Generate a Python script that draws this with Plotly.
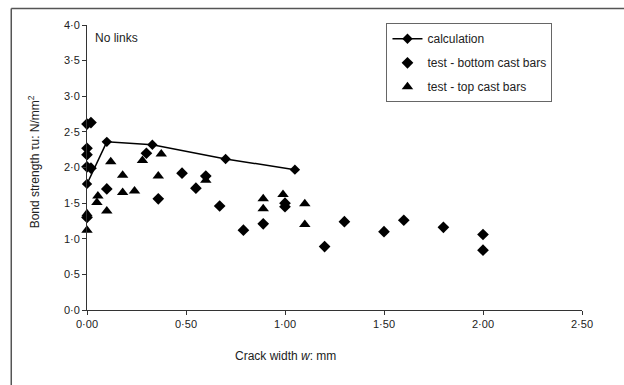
import plotly.graph_objects as go

# calculation curve
calc_x = [0.0, 0.10, 0.33, 0.70, 1.05]
calc_y = [1.77, 2.36, 2.32, 2.12, 1.97]

# test - bottom cast bars (diamonds)
bot_x = [0.0, 0.02, 0.0, 0.0, 0.0, 0.02, 0.0, 0.10, 0.30, 0.36, 0.48, 0.55, 0.60, 0.67, 0.79,
         0.89, 1.00, 1.00, 1.20, 1.30, 1.50, 1.60, 1.80, 2.00, 2.00]
bot_y = [2.61, 2.63, 2.27, 2.18, 2.01, 1.99, 1.30, 1.70, 2.20, 1.56, 1.92, 1.71, 1.88, 1.46, 1.12,
         1.21, 1.50, 1.45, 0.89, 1.24, 1.10, 1.26, 1.16, 1.06, 0.84]

# test - top cast bars (triangles)
top_x = [0.0, 0.0, 0.05, 0.055, 0.10, 0.12, 0.18, 0.18, 0.24, 0.28, 0.375, 0.36, 0.60,
         0.89, 0.89, 0.99, 1.10, 1.10]
top_y = [1.35, 1.12, 1.51, 1.60, 1.39, 2.08, 1.89, 1.65, 1.67, 2.10, 2.19, 1.88, 1.82,
         1.56, 1.42, 1.62, 1.49, 1.20]

xticks = [0, 0.5, 1.0, 1.5, 2.0, 2.5]
xticklabels = ["0·00", "0·50", "1·00", "1·50", "2·00", "2·50"]
yticks = [0, 0.5, 1.0, 1.5, 2.0, 2.5, 3.0, 3.5, 4.0]
yticklabels = ["0·0", "0·5", "1·0", "1·5", "2·0", "2·5", "3·0", "3·5", "4·0"]

FAM = "Liberation Sans, Arial, sans-serif"
fnt = dict(family=FAM, size=11, color="#222")

fig = go.Figure()
fig.add_trace(go.Scatter(x=calc_x, y=calc_y, mode="lines+markers", name="calculation",
                         line=dict(color="black", width=1.5),
                         marker=dict(symbol="diamond", size=8, color="black"),
                         legendgroup="a", cliponaxis=False))
fig.add_trace(go.Scatter(x=bot_x, y=bot_y, mode="markers", name="test - bottom cast bars",
                         marker=dict(symbol="diamond", size=9, color="black"),
                         legendgroup="b", cliponaxis=False))
fig.add_trace(go.Scatter(x=top_x, y=top_y, mode="markers", name="test - top cast bars",
                         marker=dict(symbol="triangle-up", size=10, color="black"),
                         legendgroup="c", cliponaxis=False))

axis_common = dict(showgrid=False, zeroline=False, showline=True, linecolor="#333", linewidth=1,
                   ticks="outside", ticklen=4, tickcolor="#333", tickfont=fnt)
fig.update_xaxes(range=[0, 2.5], tickvals=xticks, ticktext=xticklabels, **axis_common)
fig.update_yaxes(range=[0, 4.0], tickvals=yticks, ticktext=yticklabels, **axis_common)

fig.update_layout(
    width=624, height=385,
    margin=dict(l=87, r=42, t=25, b=75),
    plot_bgcolor="white", paper_bgcolor="white",
    font=fnt,
    showlegend=True,
    legend=dict(x=0.605, y=1.006, xanchor="left", yanchor="top",
                bordercolor="#666", borderwidth=1, bgcolor="white",
                font=dict(family=FAM, size=12, color="#222"),
                tracegroupgap=5, itemwidth=30),
    annotations=[
        dict(text="No links", x=0.012, y=0.955, xref="paper", yref="paper",
             xanchor="left", yanchor="middle", showarrow=False,
             font=dict(family=FAM, size=12, color="#222")),
        dict(text="Crack width <i>w</i>: mm", x=0.40, y=-0.162, xref="paper", yref="paper",
             xanchor="center", yanchor="middle", showarrow=False,
             font=dict(family=FAM, size=12, color="#222")),
        dict(text="Bond strength τu: N/mm<sup>2</sup>", x=-0.108, y=0.52, xref="paper", yref="paper",
             textangle=-90, xanchor="center", yanchor="middle", showarrow=False,
             font=dict(family=FAM, size=12, color="#222")),
    ],
    shapes=[
        # page frame (top and left edges visible)
        dict(type="line", xref="paper", yref="paper", x0=-0.153, x1=1.10, y0=1.058, y1=1.058,
             line=dict(color="#555", width=1.5)),
        dict(type="line", xref="paper", yref="paper", x0=-0.153, x1=-0.153, y0=-0.28, y1=1.058,
             line=dict(color="#555", width=1.5)),
    ],
)

fig.write_html("out.html", config={"displayModeBar": False},
               post_script="document.body.style.margin='0';")
